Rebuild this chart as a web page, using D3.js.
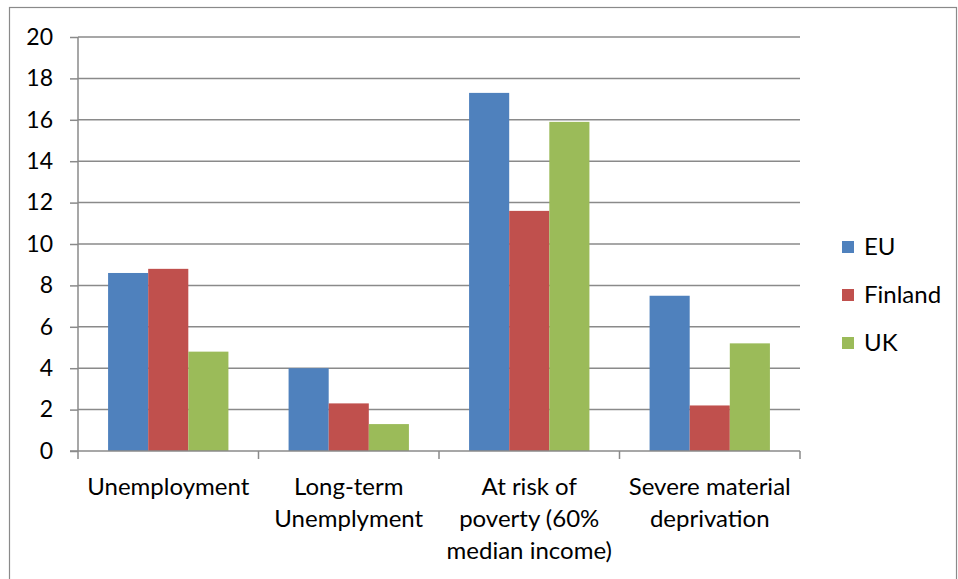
<!DOCTYPE html>
<html>
<head>
<meta charset="utf-8">
<script src="https://cdn.jsdelivr.net/npm/d3@7"></script>
<style>
  html, body { margin: 0; padding: 0; background: #fff; }
  svg { display: block; }
  text { font-family: Lato, "Open Sans", sans-serif; fill: #000; }
</style>
</head>
<body>
<svg id="chart" width="958" height="579"></svg>
<script>
// Indicators, with the wrapped lines used for the axis labels
const categories = ["Unemployment", "Long-term Unemplyment", "At risk of poverty (60% median income)", "Severe material deprivation"];
const categoryLines = [
  ["Unemployment"],
  ["Long-term", "Unemplyment"],
  ["At risk of", "poverty (60%", "median income)"],
  ["Severe material", "deprivation"]
];
const seriesNames = ["EU", "Finland", "UK"];
const euValues = [8.6, 4.0, 17.3, 7.5];
const finlandValues = [8.8, 2.3, 11.6, 2.2];
const ukValues = [4.8, 1.3, 15.9, 5.2];
const yTicks = [0, 2, 4, 6, 8, 10, 12, 14, 16, 18, 20];
const colors = ["#4F81BD", "#C0504D", "#9BBB59"];

const series = [euValues, finlandValues, ukValues];

const svg = d3.select("#chart");
const W = 958, H = 579;
const plot = { left: 78, right: 800, top: 37, bottom: 451 };
const gridColor = "#8a8a8a";

// Outer chart frame
svg.append("rect")
  .attr("x", 9.5).attr("y", 7.5)
  .attr("width", W - 11).attr("height", H + 20)
  .attr("fill", "none").attr("stroke", gridColor).attr("stroke-width", 1.2);

const x0 = d3.scaleBand().domain(categories).range([plot.left, plot.right]).paddingInner(0).paddingOuter(0);
// gap width 150%: bars occupy 3 / 4.5 of each band
const groupFrac = 3 / 4.5;
const x1 = d3.scaleBand().domain(seriesNames).range([0, x0.bandwidth() * groupFrac]).padding(0);
const y = d3.scaleLinear().domain([0, 20]).range([plot.bottom, plot.top]);

// Horizontal gridlines
svg.append("g").selectAll("line").data(yTicks.filter(d => d > 0)).join("line")
  .attr("x1", plot.left).attr("x2", plot.right)
  .attr("y1", d => y(d)).attr("y2", d => y(d))
  .attr("stroke", gridColor).attr("stroke-width", 1.5);

// Bars
const groups = svg.append("g").selectAll("g").data(categories).join("g")
  .attr("transform", c => `translate(${x0(c) + x0.bandwidth() * (1 - groupFrac) / 2},0)`);
groups.selectAll("rect")
  .data((c, i) => seriesNames.map((s, k) => ({ s, v: series[k][i], k })))
  .join("rect")
  .attr("x", d => x1(d.s))
  .attr("width", x1.bandwidth())
  .attr("y", d => y(d.v))
  .attr("height", d => y(0) - y(d.v))
  .attr("fill", d => colors[d.k]);

// Y axis
const yAxis = d3.axisLeft(y).tickValues(yTicks).tickSize(8).tickPadding(17).tickFormat(d3.format("d"));
const gy = svg.append("g").attr("transform", `translate(${plot.left},0)`).call(yAxis);
gy.select(".domain").attr("stroke", gridColor).attr("stroke-width", 1.5).attr("d", `M0,${plot.top}V${plot.bottom}`);
gy.selectAll(".tick line").attr("stroke", gridColor).attr("stroke-width", 1.5);
gy.selectAll(".tick text").attr("font-size", 23).attr("font-family", "Lato, 'Open Sans', sans-serif").attr("fill", "#000");

// X axis baseline and category separator ticks
const xEdges = categories.map(c => x0(c)).concat([plot.right]);
svg.append("line")
  .attr("x1", plot.left - 8).attr("x2", plot.right)
  .attr("y1", plot.bottom).attr("y2", plot.bottom)
  .attr("stroke", gridColor).attr("stroke-width", 1.5);
svg.append("g").selectAll("line").data(xEdges).join("line")
  .attr("x1", d => d).attr("x2", d => d)
  .attr("y1", plot.bottom).attr("y2", plot.bottom + 8)
  .attr("stroke", gridColor).attr("stroke-width", 1.5);

// Category labels
const labels = svg.append("g").selectAll("text").data(categories).join("text")
  .attr("text-anchor", "middle")
  .attr("font-size", 24)
  .attr("x", c => x0(c) + x0.bandwidth() / 2)
  .attr("y", 495);
labels.selectAll("tspan").data((c, i) => categoryLines[i]).join("tspan")
  .attr("x", function () { return d3.select(this.parentNode).attr("x"); })
  .attr("dy", (d, i) => i === 0 ? 0 : 32)
  .text(d => d);

// Legend
const legend = svg.append("g").selectAll("g").data(seriesNames).join("g")
  .attr("transform", (d, i) => `translate(842,${247 + i * 48})`);
legend.append("rect").attr("x", 0).attr("y", -6).attr("width", 12).attr("height", 12)
  .attr("fill", (d, i) => colors[i]);
legend.append("text").attr("x", 22).attr("y", 8).attr("font-size", 24).text(d => d);
</script>
</body>
</html>
